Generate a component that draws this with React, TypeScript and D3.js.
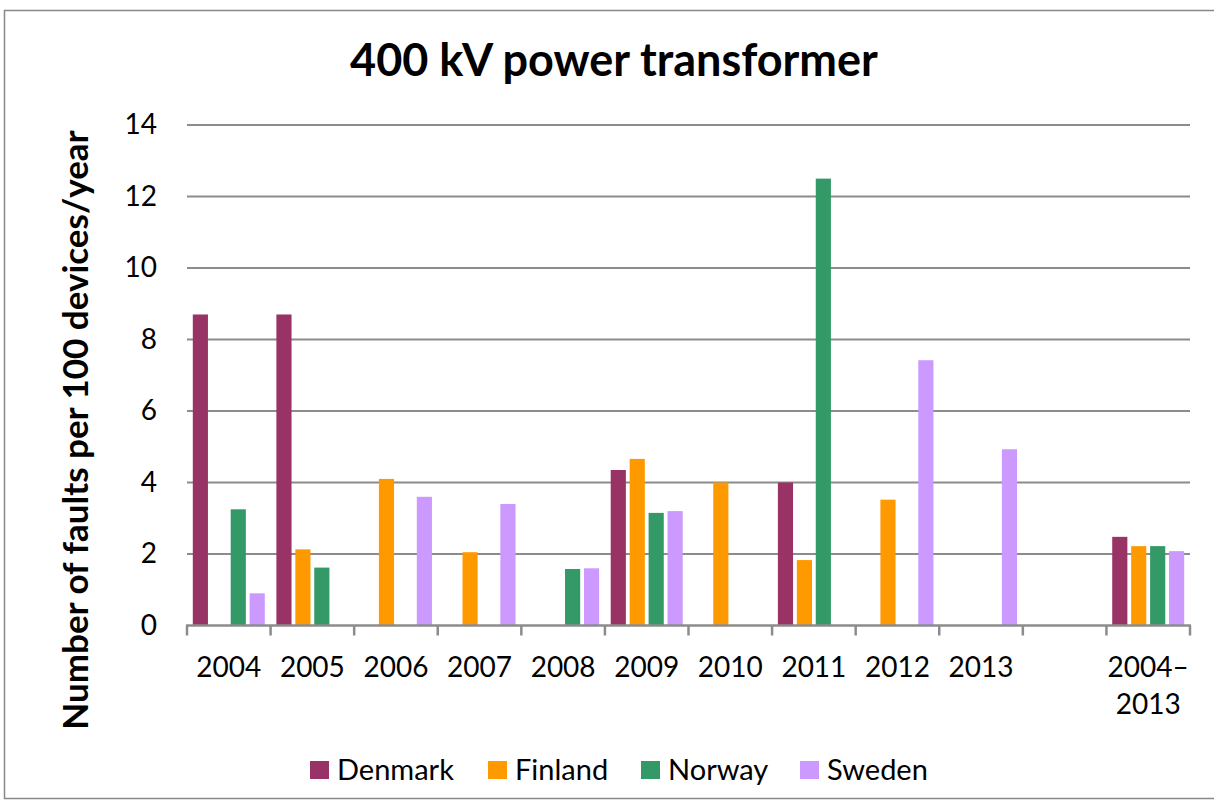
import React, { useRef, useEffect } from 'react'
import * as d3 from 'd3'

const categories = ['2004', '2005', '2006', '2007', '2008', '2009', '2010', '2011', '2012', '2013', '', '2004–2013']
const seriesNames = ['Denmark', 'Finland', 'Norway', 'Sweden']
const denmark = [8.7, 8.7, 0, 0, 0, 4.35, 0, 4.0, 0, 0, 0, 2.48]
const finland = [0, 2.13, 4.1, 2.05, 0, 4.66, 4.0, 1.83, 3.52, 0, 0, 2.22]
const norway = [3.25, 1.62, 0, 0, 1.58, 3.15, 0, 12.5, 0, 0, 0, 2.22]
const sweden = [0.9, 0, 3.6, 3.4, 1.6, 3.2, 0, 0, 7.42, 4.93, 0, 2.08]
const yTicks = [0, 2, 4, 6, 8, 10, 12, 14]
const colors = ['#993366', '#FF9900', '#339966', '#CC99FF']

const font = 'Lato, "Open Sans", sans-serif'

const App = () => {
    const ref = useRef<SVGSVGElement>(null)
    useEffect(() => {
        const svg = d3.select(ref.current)
        svg.selectAll('*').remove()
        const values = [denmark, finland, norway, sweden]

        const left = 187, right = 1190, top = 125, bottom = 625.5

        // frame
        svg.append('rect')
            .attr('x', 4.5).attr('y', 10.5)
            .attr('width', 1220).attr('height', 788)
            .attr('fill', 'white')
            .attr('stroke', '#888').attr('stroke-width', 1.5)

        const x0 = d3.scaleBand().domain(categories.map((c, i) => String(i))).range([left, right])
        const bw = x0.bandwidth()
        const x1 = d3.scaleBand().domain(seriesNames).range([5.8, bw - 5.8]).paddingInner(0.2)
        const y = d3.scaleLinear().domain([0, 14]).range([bottom, top])

        // grid
        svg.append('g').selectAll('line')
            .data(yTicks.filter(t => t > 0))
            .enter().append('line')
            .attr('x1', left).attr('x2', right)
            .attr('y1', d => y(d)).attr('y2', d => y(d))
            .style('stroke', '#8c8c8c').style('stroke-width', 2)

        // y axis (labels only)
        const yAxis = d3.axisLeft(y).tickValues(yTicks).tickSize(0).tickPadding(30)
        const gy = svg.append('g').attr('transform', `translate(${left},0)`).call(yAxis)
        gy.select('.domain').remove()
        gy.selectAll('text').style('font-family', font).style('font-size', '28px').style('fill', '#000')

        // bars
        seriesNames.forEach((s, si) => {
            svg.append('g').selectAll('rect')
                .data(values[si].map((v, i) => ({ v, i })).filter(d => d.v > 0))
                .enter().append('rect')
                .attr('x', d => (x0(String(d.i)) as number) + (x1(s) as number))
                .attr('width', x1.bandwidth())
                .attr('y', d => y(d.v))
                .attr('height', d => y(0) - y(d.v))
                .attr('fill', colors[si])
        })

        // x axis
        const gx = svg.append('g')
        gx.append('line')
            .attr('x1', left - 1).attr('x2', right + 1).attr('y1', bottom).attr('y2', bottom)
            .style('stroke', '#8c8c8c').style('stroke-width', 2.5)
        gx.selectAll('.tick')
            .data(d3.range(categories.length + 1))
            .enter().append('line')
            .attr('x1', i => left + i * bw).attr('x2', i => left + i * bw)
            .attr('y1', bottom).attr('y2', bottom + 10)
            .style('stroke', '#8c8c8c').style('stroke-width', 2.5)
        categories.forEach((c, i) => {
            const cx = (x0(String(i)) as number) + bw / 2
            const parts = c.includes('–') ? [c.split('–')[0] + '–', c.split('–')[1]] : [c]
            parts.forEach((p, pi) => {
                svg.append('text')
                    .attr('x', cx).attr('y', 677 + pi * 37)
                    .attr('text-anchor', 'middle')
                    .style('font-family', font).style('font-size', '28px')
                    .text(p)
            })
        })

        // title
        svg.append('text')
            .attr('x', 614).attr('y', 76)
            .attr('text-anchor', 'middle')
            .style('font-family', font).style('font-size', '45px').style('font-weight', 'bold')
            .text('400 kV power transformer')

        // y label
        svg.append('text')
            .attr('transform', 'translate(88,430) rotate(-90)')
            .attr('text-anchor', 'middle')
            .style('font-family', font).style('font-size', '35px').style('font-weight', 'bold')
            .text('Number of faults per 100 devices/year')

        // legend
        const legendX = [310, 488, 641, 800]
        seriesNames.forEach((s, si) => {
            svg.append('rect')
                .attr('x', legendX[si]).attr('y', 761)
                .attr('width', 19).attr('height', 18)
                .attr('fill', colors[si])
            svg.append('text')
                .attr('x', legendX[si] + 27).attr('y', 780)
                .style('font-family', font).style('font-size', '29px')
                .text(s)
        })
    }, [])
    return (
        <svg ref={ref} width={1214} height={805} style={{ position: 'absolute', left: 0, top: 0 }}></svg>
    )
}

export default App
